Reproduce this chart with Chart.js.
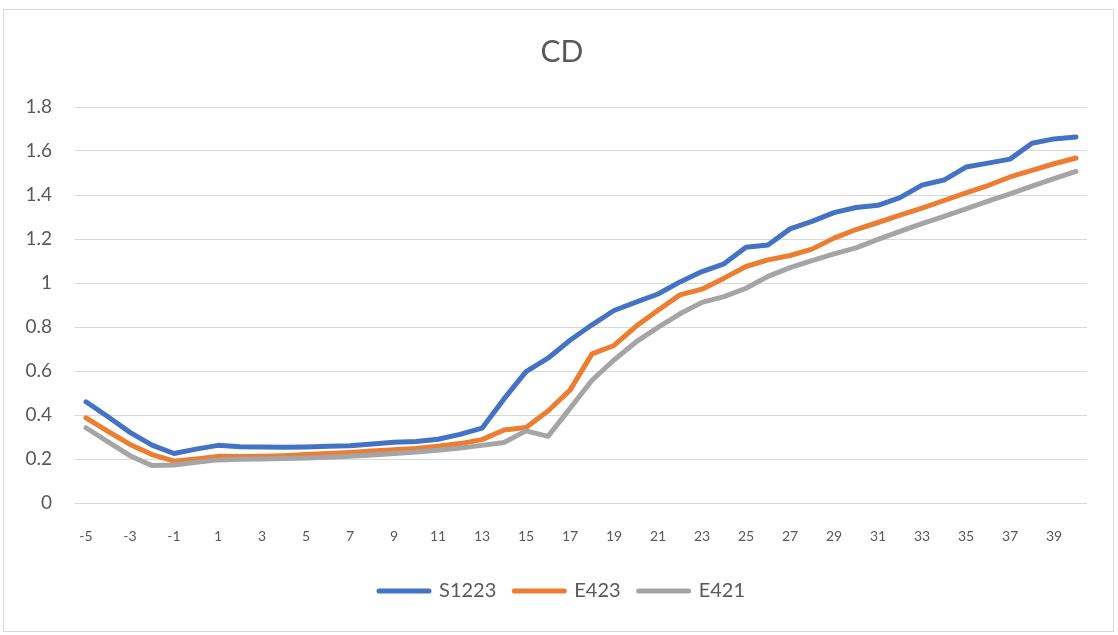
<!DOCTYPE html>
<html>
<head>
<meta charset="utf-8">
<title>CD</title>
<script src="https://cdn.jsdelivr.net/npm/chart.js@4"></script>
<style>
  html, body { margin: 0; padding: 0; background: #ffffff; }
  #wrap { position: relative; width: 1118px; height: 635px; }
</style>
</head>
<body>
<div id="wrap"><canvas id="cd" width="1118" height="635"></canvas></div>
<script>
// Categories along the horizontal axis
const categories = [
  -5, -4, -3, -2, -1, 0, 1, 2, 3, 4, 5, 6, 7, 8, 9, 10, 11, 12, 13, 14, 15, 16,
  17, 18, 19, 20, 21, 22, 23, 24, 25, 26, 27, 28, 29, 30, 31, 32, 33, 34, 35,
  36, 37, 38, 39, 40
];

// CD values per series
const s1223 = [
  0.46, 0.392, 0.321, 0.263, 0.225, 0.245, 0.262, 0.256, 0.254, 0.253, 0.255,
  0.258, 0.26, 0.268, 0.276, 0.28, 0.29, 0.312, 0.34, 0.473, 0.597, 0.658,
  0.74, 0.81, 0.875, 0.913, 0.95, 1.005, 1.052, 1.087, 1.163, 1.173, 1.246,
  1.28, 1.32, 1.343, 1.353, 1.388, 1.445, 1.468, 1.527, 1.545, 1.563, 1.635,
  1.655, 1.664
];
const e423 = [
  0.387, 0.326, 0.266, 0.22, 0.19, 0.2, 0.212, 0.211, 0.212, 0.215, 0.22,
  0.225, 0.23, 0.236, 0.242, 0.248, 0.258, 0.27, 0.288, 0.332, 0.343, 0.418,
  0.513, 0.678, 0.716, 0.803, 0.876, 0.946, 0.972, 1.022, 1.075, 1.105, 1.125,
  1.154, 1.204, 1.243, 1.275, 1.308, 1.34, 1.375, 1.41, 1.443, 1.482, 1.512,
  1.542, 1.568
];
const e421 = [
  0.342, 0.278, 0.215, 0.17, 0.173, 0.185, 0.196, 0.199, 0.2, 0.202, 0.205,
  0.208, 0.212, 0.218, 0.225, 0.232, 0.24, 0.25, 0.262, 0.275, 0.328, 0.303,
  0.43, 0.558, 0.65, 0.732, 0.798, 0.86, 0.912, 0.938, 0.976, 1.03, 1.07,
  1.102, 1.132, 1.16, 1.198, 1.235, 1.27, 1.303, 1.337, 1.372, 1.405, 1.44,
  1.474, 1.507
];

const seriesNames = ['S1223', 'E423', 'E421'];
const seriesColors = ['#4472C4', '#ED7D31', '#A5A5A5'];
const titleText = 'CD';

const FONT = "Lato, 'Open Sans', 'Noto Sans', sans-serif";
const TEXT = '#595959';
const GRID = '#D9D9D9';

// White page with a thin frame around the chart
const framePlugin = {
  id: 'frame',
  beforeDraw(chart) {
    const ctx = chart.ctx;
    ctx.save();
    ctx.fillStyle = '#ffffff';
    ctx.fillRect(0, 0, chart.width, chart.height);
    ctx.strokeStyle = GRID;
    ctx.lineWidth = 1;
    ctx.strokeRect(3.5, 9.5, 1110, 622);
    ctx.restore();
  }
};

// Title and legend are centred over the span from the frame's inner margin
// to the right edge of the plot area
const centringPlugin = {
  id: 'centring',
  afterLayout(chart) {
    if (chart.titleBlock) chart.titleBlock.left = 37;
    if (chart.legend) chart.legend.left = 37;
  }
};

function makeSeries(name, values, color, order) {
  return {
    label: name,
    data: values,
    borderColor: color,
    backgroundColor: color,
    borderWidth: 5,
    borderCapStyle: 'round',
    borderJoinStyle: 'round',
    pointRadius: 0,
    pointHoverRadius: 0,
    tension: 0,
    fill: false,
    order: order
  };
}

new Chart(document.getElementById('cd'), {
  type: 'line',
  data: {
    labels: categories.map(String),
    datasets: [
      makeSeries(seriesNames[0], s1223, seriesColors[0], 3),
      makeSeries(seriesNames[1], e423, seriesColors[1], 2),
      makeSeries(seriesNames[2], e421, seriesColors[2], 1)
    ]
  },
  options: {
    responsive: false,
    animation: false,
    devicePixelRatio: 1,
    layout: { padding: { left: 0, right: 31, top: 0, bottom: 24 } },
    plugins: {
      title: {
        display: true,
        text: titleText,
        color: TEXT,
        font: { family: FONT, size: 30, weight: 'normal', lineHeight: 1.2 },
        padding: { top: 34.5, bottom: 36.5 }
      },
      legend: {
        display: true,
        position: 'bottom',
        labels: {
          color: TEXT,
          font: { family: FONT, size: 20 },
          boxWidth: 50,
          boxHeight: 0.1,
          padding: 18,
          sort: (a, b) => a.datasetIndex - b.datasetIndex
        }
      },
      tooltip: { enabled: false }
    },
    scales: {
      x: {
        offset: true,
        grid: { display: false, drawTicks: false },
        border: { display: false },
        ticks: {
          autoSkip: false,
          maxRotation: 0,
          minRotation: 0,
          padding: 25,
          color: TEXT,
          font: { family: FONT, size: 14 },
          callback: function (value, index) {
            return index % 2 === 0 ? this.getLabelForValue(value) : '';
          }
        },
        afterFit(axis) { axis.height = 60; }
      },
      y: {
        min: 0,
        max: 1.8,
        grid: { color: GRID, lineWidth: 1, drawTicks: false },
        border: { display: false },
        ticks: {
          stepSize: 0.2,
          padding: 23,
          color: TEXT,
          font: { family: FONT, size: 19 },
          callback: (v) => String(Math.round(v * 10) / 10)
        },
        afterFit(axis) { axis.width = 75; }
      }
    }
  },
  plugins: [framePlugin, centringPlugin]
});
</script>
</body>
</html>
